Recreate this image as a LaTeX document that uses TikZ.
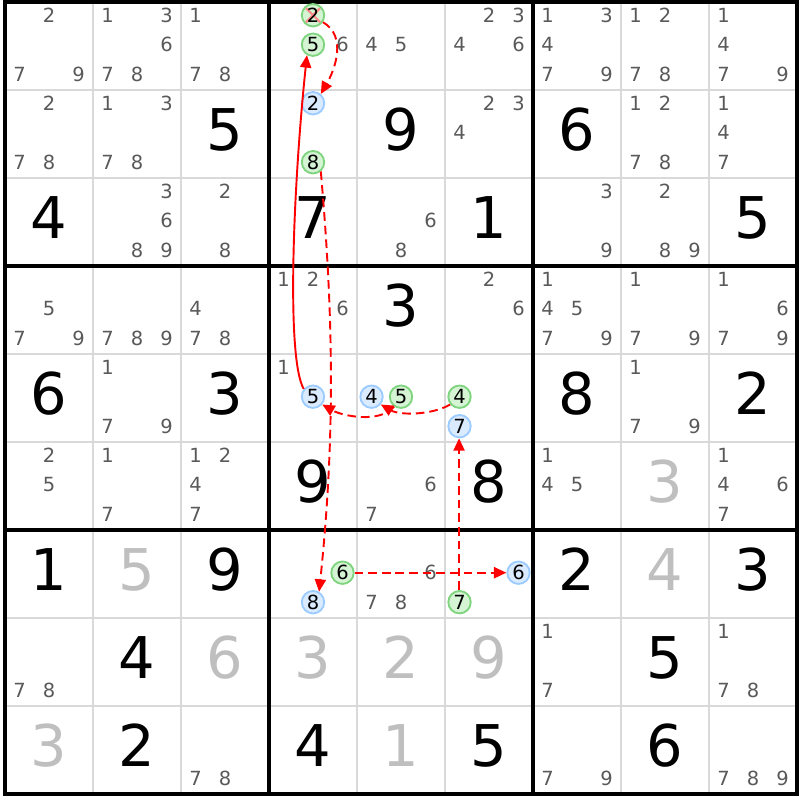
\documentclass[tikz,border=0pt]{standalone}
\usepackage{fontspec}
\setmainfont{DejaVu Sans}
\usetikzlibrary{arrows.meta}

\definecolor{ongreen}{HTML}{7FD47F}
\definecolor{ongreenfill}{HTML}{D4F4D4}
\definecolor{offblue}{HTML}{9CCBFF}
\definecolor{offbluefill}{HTML}{DAEBFF}

\begin{document}
\begin{tikzpicture}
[
% Given digit style
	given/.style={
		font=\fontsize{18.6}{20}\selectfont,
		inner sep=0pt},
% Solved digit style
	solved/.style={
		given,
		text=black!25},
% Candidate style
	cand/.style={
		font=\fontsize{6.3}{7}\selectfont,
		text=black!65,
		inner sep=0pt},
% Marked candidate styles
	oncand/.style={
		circle,
		minimum size=0.255cm,
		inner sep=0pt,
		line width=0.6pt,
		draw=ongreen,
		fill=ongreenfill,
		font=\fontsize{6.3}{7}\selectfont},
	offcand/.style={
		oncand,
		draw=offblue,
		fill=offbluefill},
	crossed/.style={
		path picture={
			\draw[red!45, line width=0.7pt]
				([shift={(-0.08,0.08)}]path picture bounding box.center) -- ++(0.16,-0.16)
				([shift={(0.08,0.08)}]path picture bounding box.center) -- ++(-0.16,-0.16);}},
% Link styles
	strong/.style={
		red,
		line width=0.62pt,
		-{Triangle[length=4pt,width=3.6pt]}},
	weak/.style={
		strong,
		dash pattern=on 2.8pt off 1.6pt},
% Grid styles
	thingrid/.style={black!15, line width=0.65pt},
	thickgrid/.style={black, line width=1.1pt, line cap=rect},
]

\useasboundingbox (-0.057,0.023) rectangle (9.034,-9.068);

% Grid
\foreach \i in {1,2,4,5,7,8}
{
	\draw[thingrid] (\i,0) -- (\i,-9);
	\draw[thingrid] (0,-\i) -- (9,-\i);
}
\foreach \i in {0,3,6,9}
{
	\draw[thickgrid] (\i,0) -- (\i,-9);
	\draw[thickgrid] (0,-\i) -- (9,-\i);
}

% Candidate places
\foreach \ro in {1,...,9}
	\foreach \co in {1,...,9}
		\foreach \dg in {1,...,9}
			\coordinate (r\ro c\co d\dg) at
				({\co-0.5+(mod(\dg-1,3)-1)*0.335},{-(\ro-0.5)+0.35-0.335*floor((\dg-1)/3)});

% Given digits
\foreach \ro/\co/\dg in {2/3/5, 2/5/9, 2/7/6, 3/1/4, 3/4/7, 3/6/1, 3/9/5,
	4/5/3, 5/1/6, 5/3/3, 5/7/8, 5/9/2, 6/4/9, 6/6/8, 7/1/1, 7/3/9, 7/7/2,
	7/9/3, 8/2/4, 8/8/5, 9/2/2, 9/4/4, 9/6/5, 9/8/6}
	\node[given] at ({\co-0.5},{-(\ro-0.5)+0.05}) {\dg};

% Solved digits
\foreach \ro/\co/\dg in {6/8/3, 7/2/5, 7/8/4, 8/3/6, 8/4/3, 8/5/2, 8/6/9,
	9/1/3, 9/5/1}
	\node[solved] at ({\co-0.5},{-(\ro-0.5)+0.05}) {\dg};

% Candidates
\foreach \ro/\co/\ds in {1/1/{2,7,9}, 1/2/{1,3,6,7,8}, 1/3/{1,7,8}, 1/4/{6},
	1/5/{4,5}, 1/6/{2,3,4,6}, 1/7/{1,3,4,7,9}, 1/8/{1,2,7,8}, 1/9/{1,4,7,9},
	2/1/{2,7,8}, 2/2/{1,3,7,8}, 2/6/{2,3,4}, 2/8/{1,2,7,8}, 2/9/{1,4,7},
	3/2/{3,6,8,9}, 3/3/{2,8}, 3/5/{6,8}, 3/7/{3,9}, 3/8/{2,8,9},
	4/1/{5,7,9}, 4/2/{7,8,9}, 4/3/{4,7,8}, 4/4/{1,2,6}, 4/6/{2,6},
	4/7/{1,4,5,7,9}, 4/8/{1,7,9}, 4/9/{1,6,7,9},
	5/2/{1,7,9}, 5/4/{1}, 5/8/{1,7,9},
	6/1/{2,5}, 6/2/{1,7}, 6/3/{1,2,4,7}, 6/5/{6,7}, 6/7/{1,4,5}, 6/9/{1,4,6,7},
	7/5/{6,7,8},
	8/1/{7,8}, 8/7/{1,7}, 8/9/{1,7,8},
	9/3/{7,8}, 9/7/{7,9}, 9/9/{7,8,9}}
	\foreach \dg in \ds
		\node[cand] at (r\ro c\co d\dg) {\dg};

% Chain candidates
\node[oncand, crossed] (r1c4n2) at (r1c4d2) {2};
\node[oncand]  (r1c4n5) at (r1c4d5) {5};
\node[offcand] (r2c4n2) at (r2c4d2) {2};
\node[oncand]  (r2c4n8) at (r2c4d8) {8};
\node[offcand] (r5c4n5) at (r5c4d5) {5};
\node[offcand] (r5c5n4) at (r5c5d4) {4};
\node[oncand]  (r5c5n5) at (r5c5d5) {5};
\node[oncand]  (r5c6n4) at (r5c6d4) {4};
\node[offcand] (r5c6n7) at (r5c6d7) {7};
\node[oncand]  (r7c4n6) at (r7c4d6) {6};
\node[offcand] (r7c4n8) at (r7c4d8) {8};
\node[offcand] (r7c6n6) at (r7c6d6) {6};
\node[oncand]  (r7c6n7) at (r7c6d7) {7};

% Chain links
\draw[weak] ([xshift=-0.15pt]r7c6n7.north) -- ([xshift=-0.15pt]r5c6n7.south);
\draw[weak] (r5c6n4.-140) to[out=-150, in=-30, looseness=0.8] (r5c5n4.-40);
\draw[weak] (r5c5n5.-125) to[out=-130, in=-30, looseness=0.8] (r5c4n5.-40);
\draw[strong] (r5c4n5.140) .. controls +(120:0.4) and +(-96:1.5) .. (r1c4n5.-120);
\draw[weak] (r1c4n2.-35) to[out=-30, in=60] (r2c4n2.50);
\draw[weak] (r2c4n8.-50) .. controls +(-85:1.6) and +(84:1.8) .. (r7c4n8.60);
\draw[weak] (r7c4n6) -- (r7c6n6);

\end{tikzpicture}
\end{document}
